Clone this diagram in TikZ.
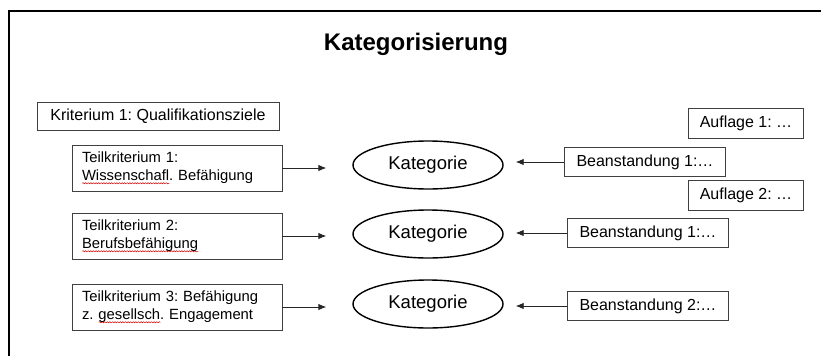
\documentclass[tikz,border=0pt]{standalone}
\usepackage{fontspec}
\setmainfont{Liberation Sans}
\frenchspacing
\usetikzlibrary{shapes.geometric,arrows.meta,decorations.pathmorphing}
\definecolor{cus-frame}{RGB}{64,64,64}
\newlength\spellw
\newcommand\speller[1]{\settowidth\spellw{#1}\makebox[0pt][l]{\raisebox{-3.5pt}{\tikz[x=1pt,y=1pt]\draw[red!85!black,line width=0.5pt,decorate,decoration={snake,amplitude=0.6pt,segment length=2.6pt}] (0,0) -- (\spellw,0);}}#1}

\begin{document}
\begin{tikzpicture}[x=1pt,y=-1pt,
	box/.style={draw=cus-frame, line width=0.9pt, inner sep=0pt, minimum height=29pt, font=\fontsize{16}{19}\selectfont},
	tkbox/.style={box, text width=190pt, inner xsep=10pt, align=left, minimum height=46pt, font=\fontsize{14.8}{18}\selectfont},
	kat/.style={draw, ellipse, line width=1.4pt, minimum width=150pt, minimum height=48pt, inner sep=0pt, font=\fontsize{18.5}{22}\selectfont},
	arr/.style={-{Latex[length=8pt,width=6.5pt]}, line width=0.9pt, black!85}]
\useasboundingbox (0,0) rectangle (821,356);
% outer frame
\draw [line width=2.5pt] (9,356) -- (9,11) -- (821,11);
\node [font=\fontsize{24}{28}\bfseries] (title) at (416,44) {Kategorisierung};

\node [box, minimum width=242pt, minimum height=28pt] (krit) at (158,116) {Kriterium 1: Qualifikationsziele};
\node [tkbox] (t1) at (177,168) {Teilkriterium 1:\\ \speller{Wissenschafl}. Befähigung};
\node [tkbox] (t2) at (177,236) {Teilkriterium 2:\\ \speller{Berufsbefähigung}};
\node [tkbox] (t3) at (177,307) {Teilkriterium 3: Befähigung\\ z. \speller{gesellsch}. Engagement};

\node [kat] (k1) at (428,165) {Kategorie};
\node [kat] (k2) at (428,234) {Kategorie};
\node [kat] (k3) at (428,304) {Kategorie};

\node [box, minimum width=161pt] (b1) at (645,162) {Beanstandung 1:…};
\node [box, minimum width=161pt] (b2) at (648,233) {Beanstandung 1:…};
\node [box, minimum width=161pt] (b3) at (648,306) {Beanstandung 2:…};
\node [box, minimum width=115pt, minimum height=30pt] (a1) at (746,123) {Auflage 1: …};
\node [box, minimum width=115pt, minimum height=30pt] (a2) at (746,195) {Auflage 2: …};

\foreach \i in {1,2,3}{
	\draw [arr, shorten >=26pt] (t\i.east) -- (t\i.east -| k\i.west);
	\draw [arr, shorten >=12pt] (b\i.west) -- (b\i.west -| k\i.east);
}
\end{tikzpicture}
\end{document}
